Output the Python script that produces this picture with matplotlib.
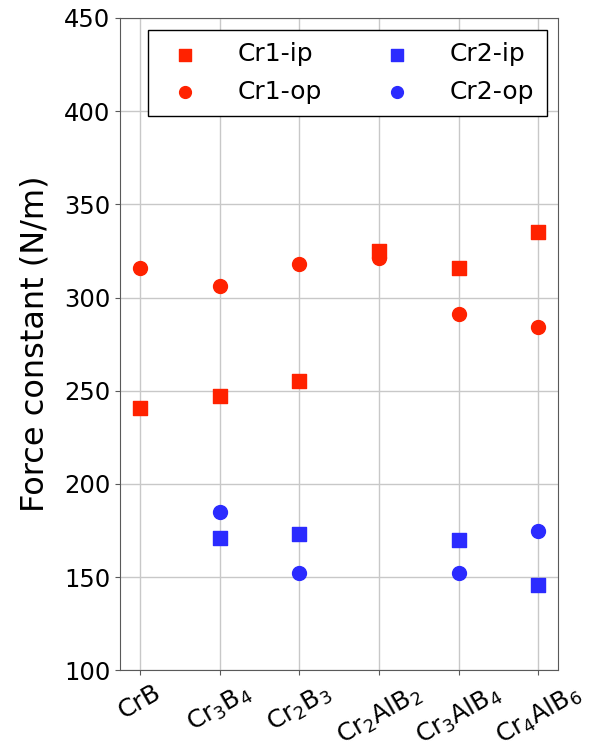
import numpy as np
import matplotlib.pyplot as plt

# compounds
labels = ['CrB', r'Cr$_3$B$_4$', r'Cr$_2$B$_3$', r'Cr$_2$AlB$_2$',
          r'Cr$_3$AlB$_4$', r'Cr$_4$AlB$_6$']

# force constants (N/m); no Cr2 site in CrB and Cr2AlB2
cr1_ip = [241, 247, 255, 325, 316, 335]
cr1_op = [316, 306, 318, 321, 291, 284]
cr2_ip = [np.nan, 171, 173, np.nan, 170, 146]
cr2_op = [np.nan, 185, 152, np.nan, 152, 175]

red = '#ff2200'
blue = '#2b2bff'

x = np.arange(len(labels))

fig, ax = plt.subplots(figsize=(5.89, 7.49), dpi=100)
ax.grid(True, color='#c8c8c8', linewidth=1)
ax.set_axisbelow(True)

ax.scatter(x, cr1_ip, marker='s', s=100, color=red, label='Cr1-ip', zorder=3)
ax.scatter(x, cr1_op, marker='o', s=100, color=red, label='Cr1-op', zorder=3)
ax.scatter(x, cr2_ip, marker='s', s=100, color=blue, label='Cr2-ip', zorder=3)
ax.scatter(x, cr2_op, marker='o', s=100, color=blue, label='Cr2-op', zorder=3)

ax.set_ylim(100, 450)
ax.set_xlim(-0.25, 5.25)
ax.set_xticks(x)
ax.set_xticklabels(labels, rotation=30, fontsize=18)
ax.tick_params(axis='y', labelsize=17.5)
ax.tick_params(color='0.35')
for sp in ax.spines.values():
    sp.set_color('0.35')
ax.set_ylabel('Force constant (N/m)', fontsize=23, labelpad=10)

ax.legend(loc='upper left', ncol=2, fontsize=18, fancybox=False,
          edgecolor='black', framealpha=1, columnspacing=2.0,
          handletextpad=1.1, markerscale=0.85, borderaxespad=0,
          labelspacing=0.55, borderpad=0.5,
          bbox_to_anchor=(0.063, 0.982))

plt.subplots_adjust(left=0.204, right=0.948, top=0.976, bottom=0.105)
plt.savefig('out.png')
